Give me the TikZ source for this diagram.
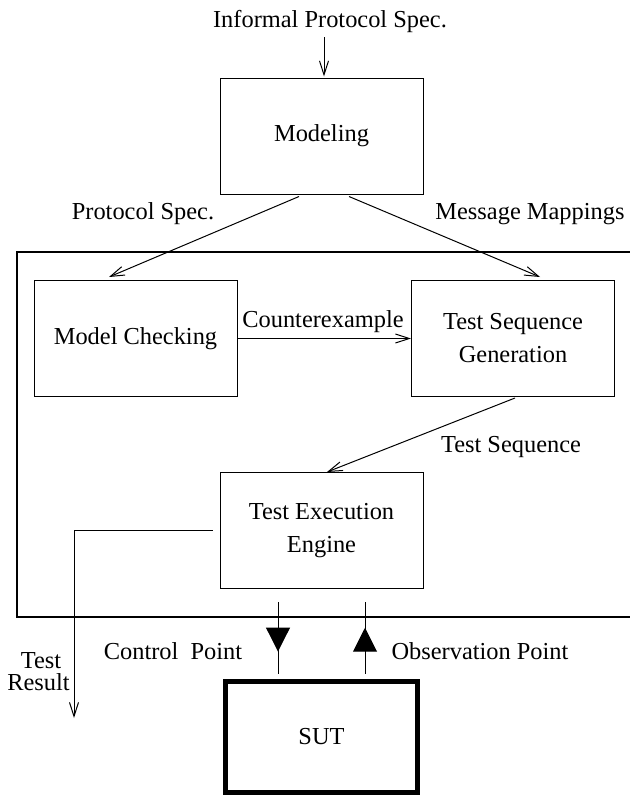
\documentclass[tikz,border=0pt]{standalone}
\usepackage{fontspec}
\setmainfont{Liberation Serif}
\usetikzlibrary{arrows.meta,calc,decorations.markings}
\begin{document}
\begin{tikzpicture}[x=0.5pt,y=-0.5pt,
  box/.style={draw,line width=0.5pt,minimum width=101.5pt,minimum height=58pt,inner sep=0pt,align=center,font=\fontsize{12.2}{16.5}\selectfont},
  lbl/.style={inner sep=0pt,anchor=base,font=\fontsize{12.2}{14}\selectfont},
  arr/.style={line width=0.5pt,-{Straight Barb[length=7pt,width=4.5pt]}},
  ctl/.style={line width=0.5pt,postaction={decorate},decoration={markings,mark=at position #1 with {\arrow{Triangle[length=12pt,width=12pt]}}}},
  ]
\clip (0,0) rectangle (630,798);
% frame
\draw[line width=1pt] (660,252) -- (17,252) -- (17,617) -- (660,617);
% boxes
\node[box] (mod) at (321.5,136) {Modeling};
\node[box] (mc) at (135.5,338.5) {Model Checking};
\node[box] (tsg) at (513,338.5) {Test Sequence\\Generation};
\node[box] (tee) at (321.5,530.5) {Test Execution\\Engine};
\node[box,line width=2.5pt,minimum width=96pt,minimum height=55.5pt] (sut) at (321.5,737) {SUT};
% labels
\node[lbl] (inf) at (330,27) {Informal Protocol Spec.};
\node[lbl] (ps) at (143,219) {Protocol Spec.};
\node[lbl] (mm) at (530,219) {Message Mappings};
\node[lbl] (ce) at (323,327) {Counterexample};
\node[lbl] (ts) at (511,452) {Test Sequence};
\node[lbl] (cp) at (173,659) {Control\ \ Point};
\node[lbl] (op) at (480,659) {Observation Point};
\node[lbl] (trt) at (41,668) {Test};
\node[lbl] (trr) at (38.5,690) {Result};
% connectors
\draw[arr] ($(inf.base)+(-6,10)$) -- ($(mod.north)+(2.5,-1)$);
\draw[arr] ($(mod.south)+(-22.5,2)$) -- ($(mc.north)+(-26.5,-3)$);
\draw[arr] ($(mod.south)+(27.5,2)$) -- ($(tsg.north)+(27,-3)$);
\draw[arr] (mc.east) -- (tsg.west);
\draw[arr] ($(tsg.south)+(2,1)$) -- ($(tee.north)+(5.5,0)$);
\coordinate (trend) at (74,718);
\draw[arr] ($(tee.west)+(-7,0)$) -| (trend);
\draw[ctl=0.693] ($(tee.south)+(-43.5,13)$) -- ($(sut.north)+(-43.5,-5.5)$);
\draw[ctl=0.64] ($(sut.north)+(43.5,-5.5)$) -- ($(tee.south)+(43.5,13)$);
\end{tikzpicture}
\end{document}
